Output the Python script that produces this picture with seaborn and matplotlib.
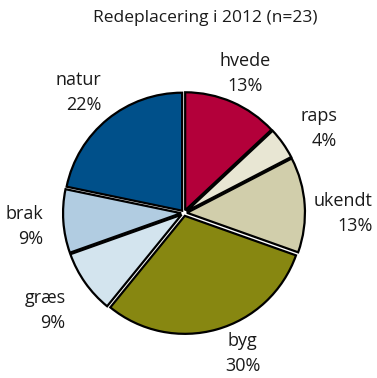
import numpy as np
import matplotlib
matplotlib.use("Agg")
import matplotlib.pyplot as plt
import seaborn as sns

categories = ["hvede", "raps", "ukendt", "byg", "græs", "brak", "natur"]
counts = [3, 1, 3, 7, 2, 2, 5]
pct_labels = ["13%", "4%", "13%", "30%", "9%", "9%", "22%"]
colors_hex = ["#B3003A", "#E8E6D3", "#D1CEAB", "#878711", "#D3E4EE", "#B1CCE1", "#00508A"]
title = "Redeplacering i 2012 (n=23)"

sns.set_theme(style="white")
plt.rcParams["font.family"] = ["Open Sans", "DejaVu Sans"]

palette = sns.color_palette(colors_hex)

fig = plt.figure(figsize=(3.77, 3.78), dpi=100)
R = 118.0
W, H = 377.0, 378.0
cx, cy = 184.0, 378.0 - 213.0
lim = 1.6
ax = fig.add_axes([(cx - lim * R) / W, (cy - lim * R) / H, 2 * lim * R / W, 2 * lim * R / H])

wedges, _ = ax.pie(counts, colors=palette, startangle=90, counterclock=False,
                   explode=[0.025] * len(counts),
                   wedgeprops=dict(edgecolor="black", linewidth=1.6))
ax.set_xlim(-lim, lim)
ax.set_ylim(-lim, lim)
ax.set_aspect("equal")
ax.axis("off")

dists = [1.29, 1.35, 1.35, 1.29, 1.44, 1.36, 1.36]
ang_off = [0, -3, -4, 7, 0, 1, 2]
aligns = ["center", "right", "right", "center", "right", "right", "right"]
for w, name, pct, d, off, al in zip(wedges, categories, pct_labels, dists, ang_off, aligns):
    ang = np.deg2rad((w.theta1 + w.theta2) / 2 + off)
    ax.text(d * np.cos(ang), d * np.sin(ang), f"{name}\n{pct}", ha="center", va="center",
            multialignment=al, fontsize=13, color="#1a1a1a", linespacing=1.5)

fig.text(205 / W, 1 - 18 / H, title, ha="center", va="center", fontsize=12.5, color="#1a1a1a")

fig.savefig("out.png", dpi=100)
